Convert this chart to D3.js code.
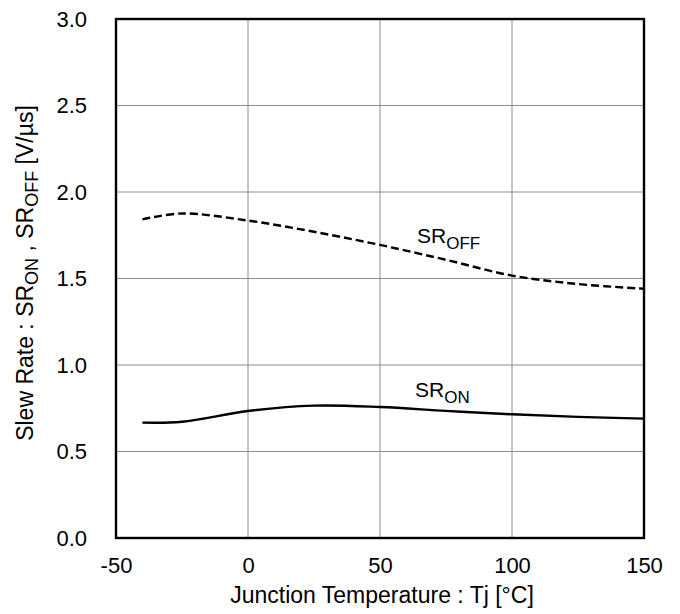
<!DOCTYPE html>
<html><head><meta charset="utf-8">
<script src="https://cdn.jsdelivr.net/npm/d3@7"></script>
<style>body{margin:0;background:#fff}svg{font-family:"Liberation Sans",Arial,sans-serif}</style>
</head><body><svg id="c" width="680" height="614"></svg>
<script>
const temps = [-40, -25, 0, 25, 50, 75, 100, 125, 150];
const srOn  = [0.667, 0.672, 0.734, 0.765, 0.757, 0.735, 0.715, 0.700, 0.690];
const srOff = [1.842, 1.876, 1.835, 1.770, 1.694, 1.608, 1.517, 1.468, 1.441];
const xTicks = [-50, 0, 50, 100, 150];
const yTicks = [0, 0.5, 1.0, 1.5, 2.0, 2.5, 3.0];

const svg = d3.select("#c");
const L = 116, R = 644, T = 19, B = 538;
const x = d3.scaleLinear().domain([-50, 150]).range([L, R]);
const y = d3.scaleLinear().domain([0, 3]).range([B, T]);
const FF = "Liberation Sans, Arial, sans-serif";

// grid
svg.append("g").selectAll("line").data(xTicks.slice(1, -1)).join("line")
  .attr("x1", d => x(d)).attr("x2", d => x(d)).attr("y1", T).attr("y2", B)
  .attr("stroke", "#8c8c8c").attr("stroke-width", 1);
svg.append("g").selectAll("line").data(yTicks.slice(1, -1)).join("line")
  .attr("x1", L).attr("x2", R).attr("y1", d => y(d)).attr("y2", d => y(d))
  .attr("stroke", "#8c8c8c").attr("stroke-width", 1);

// tick labels
const xa = svg.append("g").attr("transform", `translate(0,${B})`)
  .call(d3.axisBottom(x).tickValues(xTicks).tickSize(0).tickPadding(19).tickFormat(d => String(d)));
xa.select(".domain").remove();
xa.selectAll("text").attr("font-size", 22).attr("fill", "#000").attr("font-family", FF);
const ya = svg.append("g").attr("transform", `translate(${L},0)`)
  .call(d3.axisLeft(y).tickValues(yTicks).tickSize(0).tickPadding(29).tickFormat(d3.format(".1f")));
ya.select(".domain").remove();
ya.selectAll("text").attr("font-size", 22).attr("fill", "#000").attr("font-family", FF);

// curves
const line = d3.line().curve(d3.curveCatmullRom.alpha(0.5));
svg.append("path").attr("d", line(temps.map((t, i) => [x(t), y(srOff[i])])))
  .attr("fill", "none").attr("stroke", "#000").attr("stroke-width", 2.4).attr("stroke-dasharray", "8,4");
svg.append("path").attr("d", line(temps.map((t, i) => [x(t), y(srOn[i])])))
  .attr("fill", "none").attr("stroke", "#000").attr("stroke-width", 2.4);

// frame
svg.append("rect").attr("x", L).attr("y", T).attr("width", R - L).attr("height", B - T)
  .attr("fill", "none").attr("stroke", "#000").attr("stroke-width", 2.4);

// series labels
function srLabel(px, py, sub) {
  const t = svg.append("text").attr("x", px).attr("y", py).attr("font-size", 21).attr("fill", "#000");
  t.append("tspan").text("SR");
  t.append("tspan").attr("font-size", 17).attr("dy", 6).text(sub);
}
srLabel(417, 243, "OFF");
srLabel(415, 397, "ON");

// axis titles
svg.append("text").attr("x", 382).attr("y", 603).attr("text-anchor", "middle")
  .attr("font-size", 23).attr("fill", "#000").text("Junction Temperature : Tj [°C]");
const yt = svg.append("text").attr("transform", `translate(33,273) rotate(-90)`)
  .attr("text-anchor", "middle").attr("font-size", 23).attr("fill", "#000");
yt.append("tspan").text("Slew Rate : SR");
yt.append("tspan").attr("font-size", 18).attr("dy", 5).text("ON");
yt.append("tspan").attr("dy", -5).text(" , SR");
yt.append("tspan").attr("font-size", 18).attr("dy", 5).text("OFF");
yt.append("tspan").attr("dy", -5).text(" [V/µs]");
</script></body></html>
